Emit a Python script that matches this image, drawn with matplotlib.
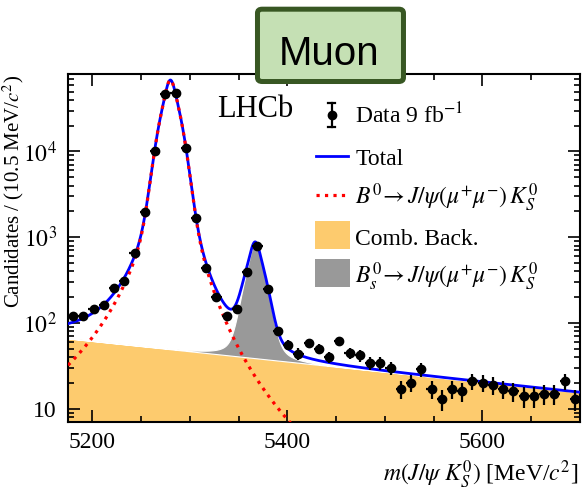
import numpy as np
import matplotlib
matplotlib.use("Agg")
import matplotlib.pyplot as plt
from matplotlib.patches import FancyBboxPatch, Rectangle
from matplotlib.lines import Line2D
from matplotlib.ticker import FixedLocator, FixedFormatter, MultipleLocator, LogLocator, NullFormatter

# ---------------- data ----------------
bin_low = 5175.0
bin_width = 10.5
counts = [119, 119, 145, 163, 259, 307, 659, 1960, 10200, 46500,
          48200, 10900, 1690, 440, 200, 121, 145, 391, 782, 252,
          81, 56, 44, 58, 50, 40, 61, 45, 42, 34,
          34, 30, 17, 20, 29, 17, 13, 17, 16, 21,
          20, 19, 17, 16, 14, 14, 15, 15, 21, 13]
xticks = [5200, 5400, 5600]
xtick_labels = ['5200', '5400', '5600']
yticks = [10, 100, 1000, 10000]
ytick_labels = ['10', r'$10^2$', r'$10^3$', r'$10^4$']
legend_labels = [r'Data 9 fb$^{-1}$', 'Total',
                 r'$B^0\!\rightarrow J/\psi(\mu^{{+}}\mu^{{-}})\,K^0_S$',
                 'Comb. Back.',
                 r'$B^0_s\!\rightarrow J/\psi(\mu^{{+}}\mu^{{-}})\,K^0_S$']

# ---------------- fit model parameters ----------------
b0_mass = 5280.0
bs_mass = 5366.9
b0_peak = 68000.0
bs_peak = 820.0
core_frac, core_sigma = 0.271, 3.41
wide_frac, wide_sigma = 0.505, 9.0
tail_frac = 0.224
tail_left_scale, tail_left_power = 11.7, 1.4
tail_right_scale, tail_right_power = 15.0, 1.825
bkg_at_low = 66.0
bkg_slope = -0.00276

plt.rcParams['font.family'] = ['Liberation Serif', 'DejaVu Serif']
plt.rcParams['mathtext.fontset'] = 'stix'


def shape(d):
    g = (core_frac * np.exp(-0.5 * (d / core_sigma) ** 2)
         + wide_frac * np.exp(-0.5 * (d / wide_sigma) ** 2))
    tail = np.where(d < 0,
                    (1 + (d / tail_left_scale) ** 2) ** (-tail_left_power),
                    (1 + (d / tail_right_scale) ** 2) ** (-tail_right_power))
    return g + tail_frac * tail


nb = len(counts)
edges = bin_low + bin_width * np.arange(nb + 1)
centers = 0.5 * (edges[:-1] + edges[1:])
cnt = np.array(counts, dtype=float)

x = np.linspace(edges[0], edges[-1], 1500)
bkg = bkg_at_low * np.exp(bkg_slope * (x - edges[0]))
b0 = b0_peak * shape(x - b0_mass)
bs = bs_peak * shape(x - bs_mass)
total = bkg + b0 + bs

fig = plt.figure(figsize=(5.84, 4.91), dpi=100)
ax = fig.add_axes([0.11644, 0.14053, 0.8767, 0.70876])
ax.set_yscale('log')

ax.fill_between(x, 1.0, bkg, facecolor='#fdcb6e', edgecolor='none', lw=0, zorder=1)
ax.fill_between(x, bkg, bkg + bs, facecolor='#999999', edgecolor='white', lw=0.8, zorder=2)
ax.plot(x, total, color='#0000ff', lw=2.0, zorder=3)
ax.plot(x, b0, color='#ff0000', ls=':', lw=2.3, zorder=4)
ax.errorbar(centers, cnt, yerr=np.sqrt(cnt), xerr=bin_width / 2, fmt='o', color='k',
            ms=6, elinewidth=1.6, capsize=0, zorder=5)

ax.set_xlim(edges[0], edges[-1])
ax.set_ylim(7, 8e4)

ax.xaxis.set_major_locator(FixedLocator(xticks))
ax.xaxis.set_major_formatter(FixedFormatter(xtick_labels))
ax.xaxis.set_minor_locator(MultipleLocator(50))
ax.yaxis.set_major_locator(FixedLocator(yticks))
ax.yaxis.set_major_formatter(FixedFormatter(ytick_labels))
ax.yaxis.set_minor_locator(LogLocator(base=10, subs=np.arange(2, 10)))
ax.yaxis.set_minor_formatter(NullFormatter())
ax.tick_params(which='both', direction='in', top=True, right=True, width=1.2, labelsize=17)
ax.tick_params(which='major', length=8.5)
ax.tick_params(which='minor', length=4.5)
ax.tick_params(axis='x', pad=7)
ax.tick_params(axis='y', pad=8)
for s in ax.spines.values():
    s.set_linewidth(1.5)

ax.set_xlabel(r'$m(J/\psi\ K^0_S)$ [MeV/$c^2$]', fontsize=17, loc='right')
ax.xaxis.set_label_coords(0.997, -0.106)
ax.set_ylabel(r'Candidates / (10.5 MeV/$c^2$)', fontsize=15, loc='top')
ax.yaxis.set_label_coords(-0.083, 0.997)

ax.text(0.291, 0.876, 'LHCb', transform=ax.transAxes, fontsize=22, va='baseline', ha='left')

# ---------------- legend (drawn by hand) ----------------
text_x = 0.561
baselines = [0.8583, 0.7376, 0.6244, 0.5095, 0.3974]
centres = [0.882, 0.7644, 0.6523, 0.5374, 0.4282]
for lab, yb in zip(legend_labels, baselines):
    ax.text(text_x, yb, lab, transform=ax.transAxes, fontsize=17, va='baseline', ha='left')
hx = 0.5151
hy = centres[0]
ax.plot([hx], [hy], 'o', color='k', ms=6, transform=ax.transAxes, clip_on=False)
ax.plot([hx, hx], [hy - 0.0336, hy + 0.0336], color='k', lw=1.6, transform=ax.transAxes)
for yy in (hy - 0.0336, hy + 0.0336):
    ax.plot([hx - 0.007, hx + 0.007], [yy, yy], color='k', lw=1.6, transform=ax.transAxes)
ax.add_line(Line2D([0.484, 0.547], [centres[1]] * 2, color='#0000ff', lw=2.0, transform=ax.transAxes))
ax.add_line(Line2D([0.484, 0.547], [centres[2]] * 2, color='#ff0000', ls=':', lw=2.3, transform=ax.transAxes))
ax.add_patch(Rectangle((0.482, centres[3] - 0.0402), 0.0684, 0.0805, transform=ax.transAxes,
                       facecolor='#fdcb6e', edgecolor='none'))
ax.add_patch(Rectangle((0.482, centres[4] - 0.0402), 0.0684, 0.0805, transform=ax.transAxes,
                       facecolor='#999999', edgecolor='none'))

# ---------------- "Muon" tag ----------------
box = FancyBboxPatch((0.4409, 0.834), 0.25, 0.1473, boxstyle='round,pad=0,rounding_size=0.008',
                     transform=fig.transFigure, facecolor='#c5e0b4', edgecolor='#385723',
                     lw=3.6, zorder=10)
fig.patches.append(box)
fig.text(0.5642, 0.8676, 'Muon', fontsize=29, family='Liberation Sans', ha='center',
         va='baseline', zorder=11)

fig.savefig('out.png', dpi=100)
